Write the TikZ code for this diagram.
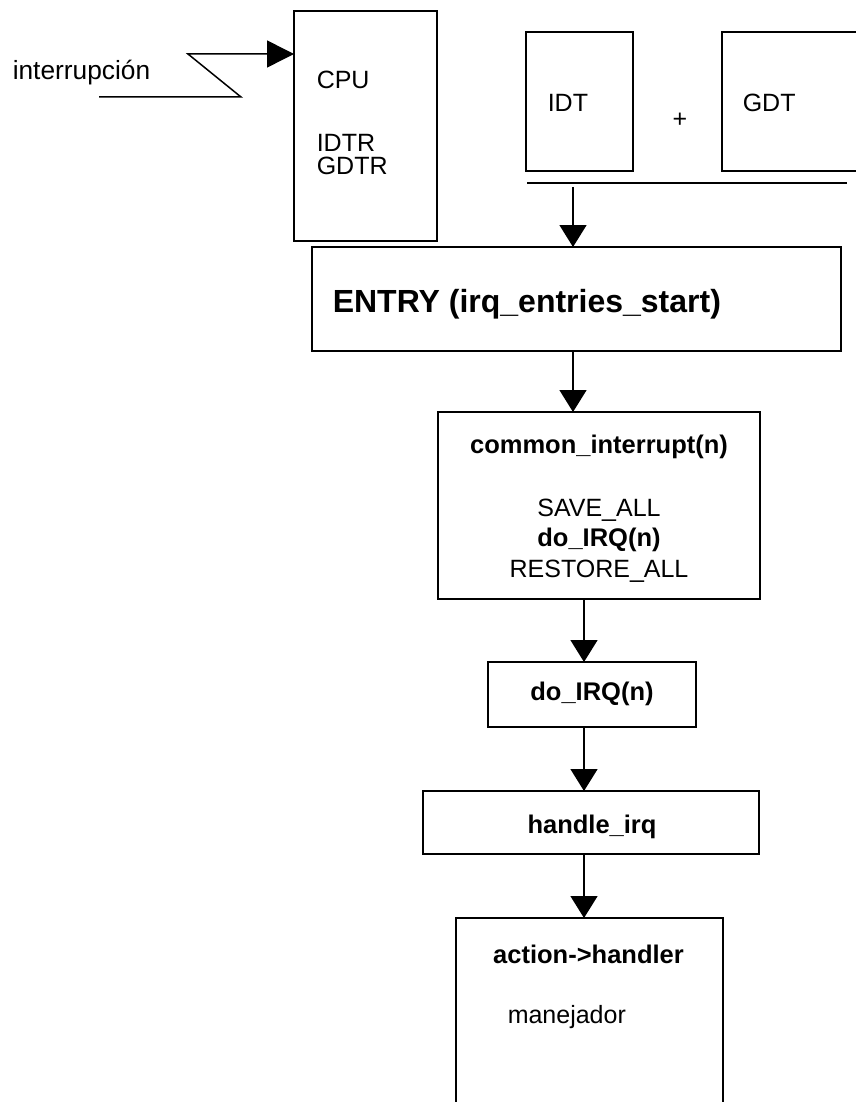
\documentclass[tikz,border=0pt]{standalone}
\usepackage{fontspec}
\setmainfont{Liberation Sans}
\usetikzlibrary{arrows.meta,positioning}
\begin{document}
\begin{tikzpicture}[x=1pt,y=-1pt,>={Triangle[length=22pt,width=27pt]},line width=1.5pt,
 box/.style={draw,line width=1.5pt,inner sep=0pt,outer sep=0pt},
 txt/.style={inner sep=0pt,font=\fontsize{25}{30}\selectfont},
 btxt/.style={inner sep=0pt,font=\fontsize{25.5}{30}\selectfont\bfseries}]
\useasboundingbox (0,0) rectangle (855,1102);
\node[box,minimum width=143pt,minimum height=230pt] (cpu) at (365.5,126) {};
\node[box,minimum width=107pt,minimum height=139pt] (idt) at (579.5,101.5) {};
\node[box,minimum width=148pt,minimum height=139pt] (gdt) at (796,101.5) {};
\node[box,minimum width=529pt,minimum height=104pt] (entry) at (576.5,299) {};
\node[box,minimum width=322pt,minimum height=187pt] (common) at (599,505.5) {};
\node[box,minimum width=208pt,minimum height=65pt] (doirq) at (592,694.5) {};
\node[box,minimum width=336pt,minimum height=63pt] (handle) at (591,822.5) {};
\node[box,minimum width=267pt,minimum height=204pt] (action) at (589.5,1020) {};
\node[txt,font=\fontsize{26.3}{30}\selectfont,anchor=base west] (intr) at (12,80) {interrupción};
\node[txt,anchor=base west] (cpul) at (316,89) {CPU};
\node[txt,anchor=base west] (idtr) at (316,152) {IDTR};
\node[txt,anchor=base west] (gdtr) at (316,175) {GDTR};
\node[txt,anchor=base west] (idtl) at (547,112) {IDT};
\node[txt,anchor=base] (plus) at (680,128) {+};
\node[txt,anchor=base west] (gdtl) at (742,112) {GDT};
\node[btxt,font=\fontsize{32}{36}\selectfont\bfseries,anchor=base west] (entryl) at (332,312) {ENTRY (irq\_entries\_start)};
\node[btxt,anchor=base] (commonl) at (599,453) {common\_interrupt(n)};
\node[txt,anchor=base] (save) at (599,516) {SAVE\_ALL};
\node[btxt,anchor=base] (call) at (599,546) {do\_IRQ(n)};
\node[txt,anchor=base] (restore) at (599,577) {RESTORE\_ALL};
\node[btxt,anchor=base] (doirql) at (592,700) {do\_IRQ(n)};
\node[btxt,anchor=base] (handlel) at (592,833) {handle\_irq};
\node[btxt,anchor=base] (actionl) at (588.5,963) {action->handler};
\node[txt,anchor=base west] (manej) at (507,1023) {manejador};
\coordinate (zlow) at (99,97);
\coordinate (zmid) at (241,97);
\coordinate (ztop) at (188,54);
\coordinate (barl) at (527,183);
\coordinate (barr) at (847,183);
\coordinate (barm) at (573,187);
\coordinate (axis) at (584,0);
\draw[-{Triangle[length=27pt,width=27pt]}] (zlow) -- (zmid) -- (ztop) -- (ztop -| cpu.west);
\draw (barl) -- (barr);
\draw[->] (barm) -- (entry.north -| barm);
\draw[->] (entry.south -| barm) -- (common.north -| barm);
\draw[->] (common.south -| axis) -- (doirq.north -| axis);
\draw[->] (doirq.south -| axis) -- (handle.north -| axis);
\draw[->] (handle.south -| axis) -- (action.north -| axis);
\end{tikzpicture}
\end{document}
